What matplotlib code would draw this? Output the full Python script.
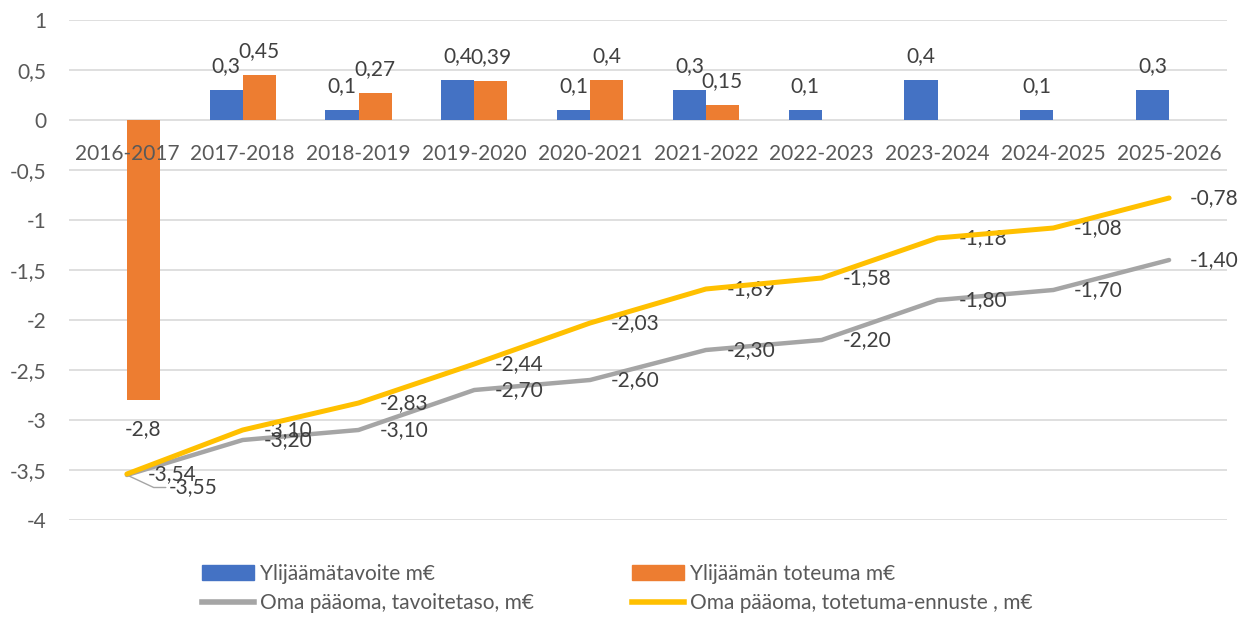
import numpy as np
import matplotlib
matplotlib.use("Agg")
import matplotlib.pyplot as plt
from matplotlib.patches import Patch
from matplotlib.lines import Line2D

plt.rcParams['font.family'] = ['Lato', 'DejaVu Sans']

categories = ["2016-2017", "2017-2018", "2018-2019", "2019-2020", "2020-2021",
              "2021-2022", "2022-2023", "2023-2024", "2024-2025", "2025-2026"]
tavoite = [None, 0.3, 0.1, 0.4, 0.1, 0.3, 0.1, 0.4, 0.1, 0.3]
toteuma = [-2.8, 0.45, 0.27, 0.39, 0.4, 0.15, None, None, None, None]
oma_tavoite = [-3.55, -3.20, -3.10, -2.70, -2.60, -2.30, -2.20, -1.80, -1.70, -1.40]
oma_ennuste = [-3.54, -3.10, -2.83, -2.44, -2.03, -1.69, -1.58, -1.18, -1.08, -0.78]
yticks = [1, 0.5, 0, -0.5, -1, -1.5, -2, -2.5, -3, -3.5, -4]

BLUE = "#4472C4"
ORANGE = "#ED7D31"
GREY = "#A5A5A5"
GOLD = "#FFC000"
TXT = "#404040"
TICK = "#595959"
FS = 15


def fmt(v, dec=None):
    s = f"{v:.{dec}f}" if dec is not None else f"{v:g}"
    return s.replace(".", ",")


fig = plt.figure(figsize=(12.41, 6.28), dpi=100)
ax = fig.add_axes([69 / 1241, 1 - 520 / 628, (1227 - 69) / 1241, 500 / 628])

x = np.arange(len(categories))
w = 0.285

for i, v in enumerate(tavoite):
    if v is None:
        continue
    ax.bar(x[i] - w / 2, v, w, color=BLUE, zorder=2)
    ax.annotate(fmt(v), (x[i] - w / 2, v), xytext=(0, 10), textcoords="offset points",
                ha="center", va="bottom", fontsize=FS, color=TXT)
for i, v in enumerate(toteuma):
    if v is None:
        continue
    ax.bar(x[i] + w / 2, v, w, color=ORANGE, zorder=2)
    off = 10 if v >= 0 else -14
    ax.annotate(fmt(v), (x[i] + w / 2, v), xytext=(0, off), textcoords="offset points",
                ha="center", va="bottom" if v >= 0 else "top", fontsize=FS, color=TXT)

ax.plot(x, oma_tavoite, color=GREY, lw=3.2, solid_capstyle="round", zorder=3)
ax.plot(x, oma_ennuste, color=GOLD, lw=3.6, solid_capstyle="round", zorder=4)

for i, v in enumerate(oma_tavoite):
    if i == 0:
        ax.annotate(fmt(v, 2), (x[i], v), xytext=(30, -9), textcoords="offset points",
                    ha="left", va="center", fontsize=FS, color=TXT,
                    arrowprops=dict(arrowstyle="-", color=GREY, lw=1,
                                    shrinkA=0, shrinkB=0,
                                    connectionstyle="angle,angleA=0,angleB=-25,rad=0"))
        continue
    ax.annotate(fmt(v, 2), (x[i], v), xytext=(15, 0), textcoords="offset points",
                ha="left", va="center", fontsize=FS, color=TXT)
for i, v in enumerate(oma_ennuste):
    ax.annotate(fmt(v, 2), (x[i], v), xytext=(15, 0), textcoords="offset points",
                ha="left", va="center", fontsize=FS, color=TXT)

ax.set_xlim(-0.5, len(categories) - 0.5)
ax.set_ylim(-4, 1)
ax.set_yticks(yticks)
ax.set_yticklabels([fmt(t) for t in yticks])
ax.set_xticks(x)
ax.set_xticklabels(categories)
ax.spines['bottom'].set_position(('data', 0))
for s in ax.spines.values():
    s.set_visible(False)
ax.tick_params(axis="y", length=0, pad=16, labelsize=FS, labelcolor=TICK)
ax.tick_params(axis="x", length=0, pad=17, labelsize=FS, labelcolor=TICK)
ax.yaxis.grid(True, color="#D9D9D9", lw=1.2)
ax.set_axisbelow(True)
ax.xaxis.set_zorder(6)

handles = [Patch(color=BLUE), Line2D([], [], color=GREY, lw=4),
           Patch(color=ORANGE), Line2D([], [], color=GOLD, lw=4)]
labels = ["Ylijäämätavoite m€", "Oma pääoma, tavoitetaso, m€",
          "Ylijäämän toteuma m€", "Oma pääoma, totetuma-ennuste , m€"]
leg = fig.legend(handles, labels, ncol=2, loc="lower left",
                 bbox_to_anchor=(187 / 1241, 0.0), frameon=False, fontsize=FS,
                 handlelength=2.5, handletextpad=0.3, columnspacing=4.7,
                 labelspacing=0.45, borderaxespad=0.3)
for t in leg.get_texts():
    t.set_color(TICK)

fig.savefig("out.png", dpi=100)
